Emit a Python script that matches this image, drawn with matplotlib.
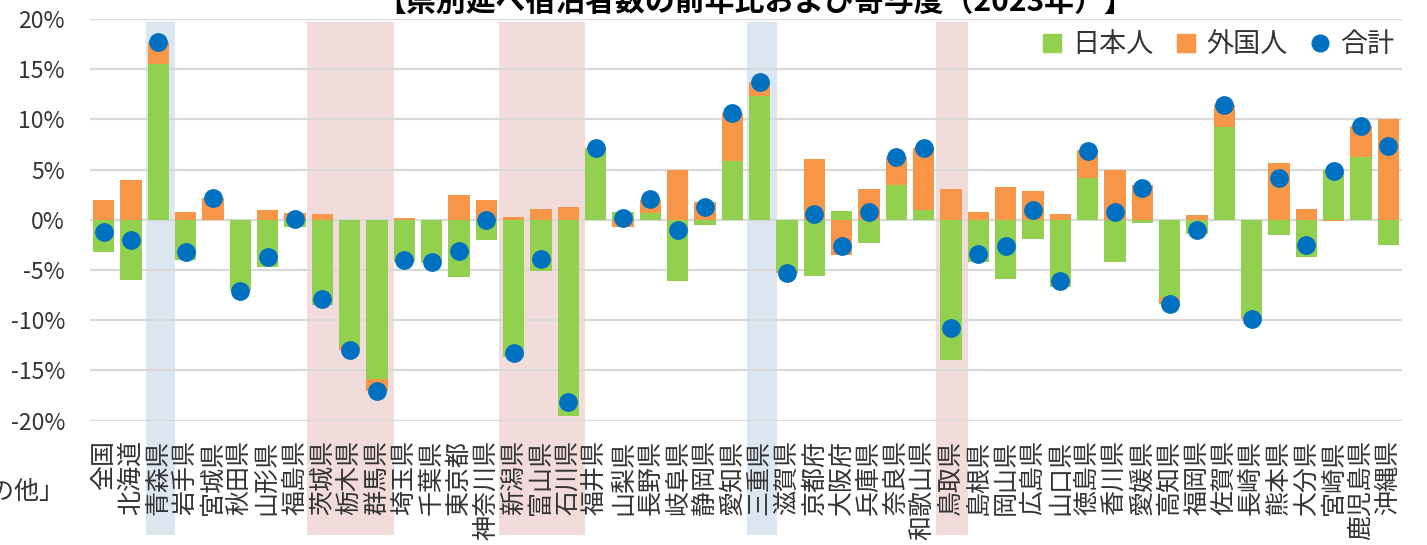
import matplotlib
matplotlib.use("Agg")
import numpy as np
import matplotlib.pyplot as plt
from matplotlib.patches import Rectangle
from matplotlib.lines import Line2D
from matplotlib.ticker import FuncFormatter

plt.rcParams['font.family'] = ['Noto Sans CJK JP', 'DejaVu Sans']

# 都道府県（全国＋47）
prefs = ["全国", "北海道", "青森県", "岩手県", "宮城県", "秋田県", "山形県", "福島県",
         "茨城県", "栃木県", "群馬県", "埼玉県", "千葉県", "東京都", "神奈川県",
         "新潟県", "富山県", "石川県", "福井県", "山梨県", "長野県", "岐阜県", "静岡県",
         "愛知県", "三重県", "滋賀県", "京都府", "大阪府", "兵庫県", "奈良県", "和歌山県",
         "鳥取県", "島根県", "岡山県", "広島県", "山口県", "徳島県", "香川県", "愛媛県",
         "高知県", "福岡県", "佐賀県", "長崎県", "熊本県", "大分県", "宮崎県", "鹿児島県",
         "沖縄県"]

# 寄与度（%ポイント）
japanese = [-3.2, -6.0, 15.5, -4.0, 0.0, -7.1, -4.7, -0.7, -8.5, -12.6, -15.9, -4.2,
            -4.3, -5.7, -2.0, -13.7, -5.1, -19.6, 7.0, 0.8, 0.7, -6.1, -0.5, 5.9,
            12.3, -5.1, -5.6, 0.9, -2.3, 3.5, 1.0, -14.0, -4.2, -5.9, -1.9, -6.7,
            4.2, -4.2, -0.3, -7.7, -1.4, 9.2, -9.7, -1.5, -3.7, 5.0, 6.3, -2.5]
foreign = [2.0, 4.0, 2.2, 0.8, 2.2, 0.0, 1.0, 0.7, 0.6, -0.4, -1.2, 0.2,
           0.0, 2.5, 2.0, 0.3, 1.1, 1.3, 0.1, -0.7, 1.3, 5.0, 1.8, 4.7,
           1.4, -0.2, 6.1, -3.5, 3.1, 2.8, 6.1, 3.1, 0.8, 3.3, 2.9, 0.6,
           2.7, 5.0, 3.5, -0.7, 0.5, 2.2, -0.2, 5.7, 1.1, -0.1, 3.0, 10.0]
# 前年比（合計）
total = [-1.2, -2.0, 17.7, -3.2, 2.2, -7.1, -3.7, 0.1, -7.9, -13.0, -17.1, -4.0,
         -4.2, -3.1, 0.0, -13.3, -3.9, -18.2, 7.1, 0.2, 2.1, -1.0, 1.3, 10.6,
         13.7, -5.3, 0.6, -2.6, 0.8, 6.3, 7.1, -10.8, -3.4, -2.6, 1.0, -6.1,
         6.8, 0.8, 3.2, -8.4, -1.0, 11.4, -9.9, 4.2, -2.5, 4.9, 9.3, 7.3]

# 強調する県（最初の県, 最後の県, 色）
highlights = [("青森県", "青森県", "blue"), ("茨城県", "群馬県", "pink"),
              ("新潟県", "石川県", "pink"), ("三重県", "三重県", "blue"),
              ("鳥取県", "鳥取県", "pink")]

GREEN = "#92D050"
ORANGE = "#F79646"
DOT = "#0070C0"
BAND = {"blue": "#DCE6F1", "pink": "#F2DCDB"}
TXT = "#333333"

W, H = 1427, 545
fig = plt.figure(figsize=(W / 100, H / 100), dpi=100)
ax = fig.add_axes([90 / W, 1 - 420.5 / H, (1402 - 90) / W, (420.5 - 19) / H])

x = np.arange(len(prefs))
jp = np.array(japanese)
fg = np.array(foreign)
fg_bottom = np.where(np.sign(fg) == np.sign(jp), jp, 0.0)

ax.bar(x, jp, width=0.77, color=GREEN, zorder=2)
ax.bar(x, fg, width=0.77, bottom=fg_bottom, color=ORANGE, zorder=2)
ax.plot(x, total, "o", color=DOT, markersize=12.5, zorder=3)

ax.set_xlim(-0.5, len(prefs) - 0.5)
ax.set_ylim(-20, 20)

# 背景の帯（軸の下まで伸びる）
px_per_unit = (420.5 - 19) / 40
for first, last, c in highlights:
    i0, i1 = prefs.index(first), prefs.index(last)
    left = i0 - (0.45 if c == "blue" else 0.55)
    right = i1 + 0.62
    top = 19.7
    bottom = 20 - (535 - 19) / px_per_unit
    ax.add_patch(Rectangle((left, bottom), right - left, top - bottom,
                           facecolor=BAND[c], edgecolor="none",
                           zorder=0.2, clip_on=False))

ax.set_yticks(np.arange(-20, 21, 5))
ax.yaxis.set_major_formatter(FuncFormatter(lambda v, p: f"{v:.0f}%"))
ax.grid(axis="y", color="#D9D9D9", linewidth=1.6, zorder=1)
ax.set_axisbelow(True)
ax.set_xticks(x)
ax.set_xticklabels(prefs, rotation=90, fontsize=18, color=TXT)
ax.tick_params(axis="x", length=0, pad=14)
ax.tick_params(axis="y", length=0, pad=18, labelsize=16.5, labelcolor=TXT)
for s in ax.spines.values():
    s.set_visible(False)

handles = [Line2D([], [], marker="s", linestyle="none", color=GREEN, markersize=13),
           Line2D([], [], marker="s", linestyle="none", color=ORANGE, markersize=13),
           Line2D([], [], marker="o", linestyle="none", color=DOT, markersize=12)]
fig.legend(handles, ["日本人", "外国人", "合計"], loc="center right",
           bbox_to_anchor=(1408 / W, 1 - 45 / H), ncol=3, frameon=False,
           fontsize=19.5, handlelength=0.8, handletextpad=0.35,
           columnspacing=0.8, borderpad=0, labelcolor=TXT)

fig.text(755 / W, 1 - 2 / H, "【県別延べ宿泊者数の前年比および寄与度（2023年）】",
         ha="center", va="center", fontsize=21.5, fontweight="bold", color="black")
fig.text(-36 / W, 1 - 492 / H, "その他」", ha="left", va="center",
         fontsize=18, color=TXT)

fig.savefig("out.png", dpi=100)
